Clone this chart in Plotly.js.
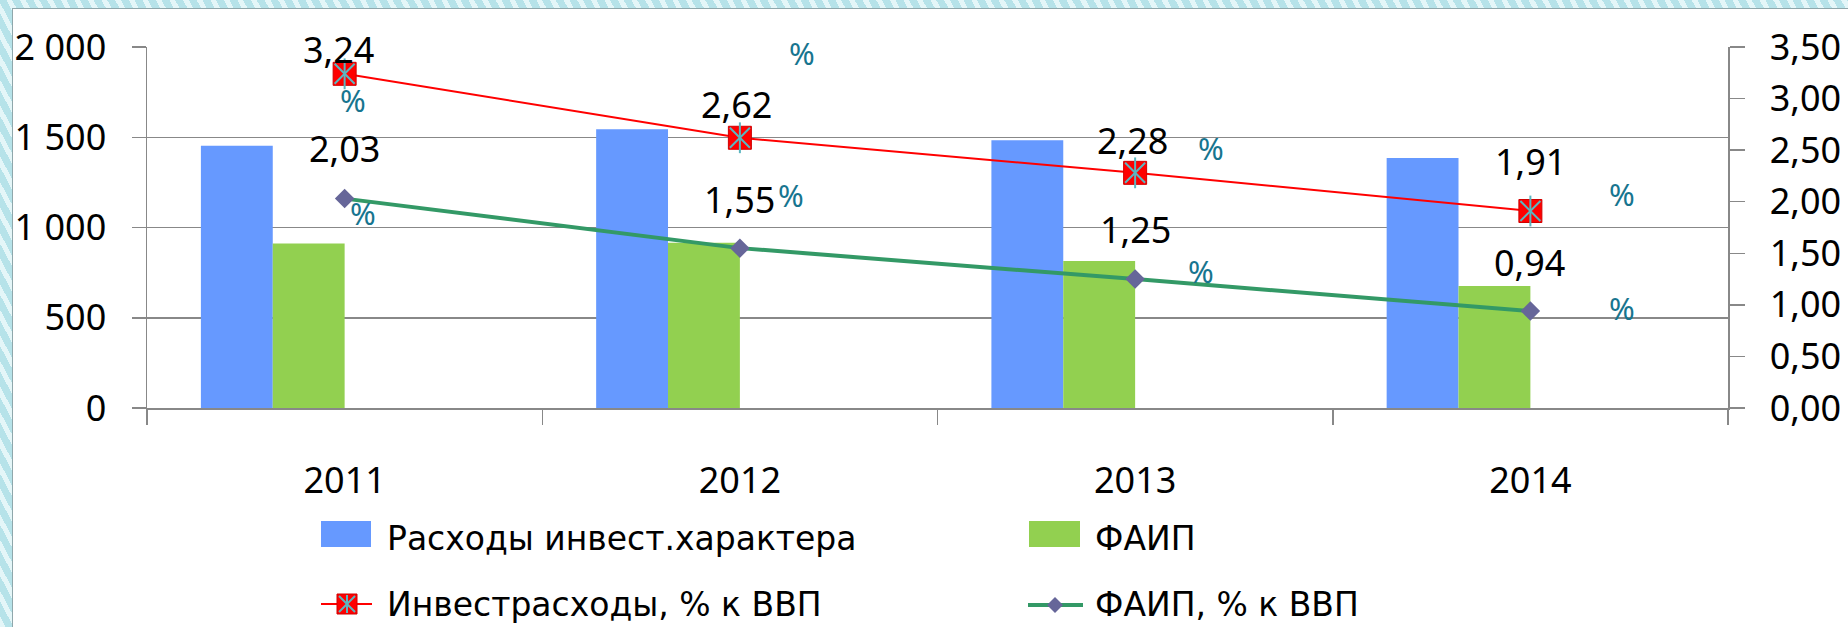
<!DOCTYPE html>
<html>
<head>
<meta charset="utf-8">
<script src="https://cdn.plot.ly/plotly-3.0.1.min.js"></script>
<style>
html,body{margin:0;padding:0;width:1848px;height:627px;overflow:hidden;}
body{background-color:#cdeef3;
 background-image:repeating-linear-gradient(62deg, rgba(255,255,255,0.45) 0px, rgba(255,255,255,0.45) 5px, rgba(140,205,215,0.35) 5px, rgba(140,205,215,0.35) 12px);}
#frame{position:absolute;left:12px;top:8px;width:1836px;height:619px;background:#ffffff;border-left:1px solid #8fa7ab;border-top:1px solid #8fa7ab;}
#chart{width:1835px;height:618px;}
</style>
</head>
<body>
<div id="frame"><div id="chart"></div></div>
<script>
// ---- data ----
const years = ['2011', '2012', '2013', '2014'];
const investSpending = [1453, 1544, 1483, 1385];   // Расходы инвест.характера
const faipSpending = [912, 916, 814, 676];         // ФАИП
const investPctGdp = [3.24, 2.62, 2.28, 1.91];     // Инвестрасходы, % к ВВП
const faipPctGdp = [2.03, 1.55, 1.25, 0.94];       // ФАИП, % к ВВП
const leftTicks = [0, 500, 1000, 1500, 2000];
const rightTicks = [0, 0.5, 1, 1.5, 2, 2.5, 3, 3.5];
const seriesNames = ['Расходы инвест.характера', 'ФАИП', 'Инвестрасходы, % к ВВП', 'ФАИП, % к ВВП'];

// ---- styles / layout helpers ----
const C = {blue:'#6699ff', green:'#92d050', red:'#ff0000', teal:'#5bb6c0', lineGreen:'#339966', diamond:'#666699', grid:'#888888', pct:'#17758f'};
const numFont = {family:'Noto Sans, Liberation Sans, sans-serif', size:36, color:'#000'};
const pctFont = {family:'Noto Sans, Liberation Sans, sans-serif', size:31, color:C.pct};
const legFont = {family:'DejaVu Sans, Verdana, sans-serif', size:33, color:'#000'};

// Excel-like group: 4 bar slots per category, gap width 150%
const slot = 1 / 5.5;

// plot area in page px (for paper-referenced legend)
const PL = 147, PR = 1728, PT = 47, PB = 408;
const px = v => (v - PL) / (PR - PL);
const py = v => (PB - v) / (PB - PT);

const traces = [
  {type:'bar', name:seriesNames[0], x:years, y:investSpending, width:slot, offset:-2*slot,
   marker:{color:C.blue}, yaxis:'y', hoverinfo:'x+y'},
  {type:'bar', name:seriesNames[1], x:years, y:faipSpending, width:slot, offset:-slot,
   marker:{color:C.green}, yaxis:'y', hoverinfo:'x+y'},
  {type:'scatter', mode:'lines+markers', name:seriesNames[2], x:years, y:investPctGdp, yaxis:'y2',
   line:{color:C.red, width:2}, marker:{symbol:'square', size:23, color:C.red, line:{color:'#d00000', width:1}}},
  {type:'scatter', mode:'markers', showlegend:false, hoverinfo:'skip', x:years, y:investPctGdp, yaxis:'y2',
   marker:{symbol:'x-thin-open', size:20, color:C.teal, line:{color:C.teal, width:2}}},
  {type:'scatter', mode:'markers', showlegend:false, hoverinfo:'skip', x:years, y:investPctGdp, yaxis:'y2',
   marker:{symbol:'line-ns-open', size:22, color:C.teal, line:{color:C.teal, width:2}}},
  {type:'scatter', mode:'lines+markers', name:seriesNames[3], x:years, y:faipPctGdp, yaxis:'y2',
   line:{color:C.lineGreen, width:4}, marker:{symbol:'diamond', size:15, color:C.diamond}}
];

const fmt = v => v.toFixed(2).replace('.', ',');
// label placement offsets (px) relative to each point: [dx, dy up]
const redValOff = [[-6,24],[-3,33],[-3,32],[0,50]];
const grnValOff = [[0,50],[0,49],[0,50],[-1,49]];
const redPctOff = [[8,-26],[62,85],[76,25],[92,17]];
const grnPctOff = [[18,-14],[51,53],[66,8],[92,3]];

const annotations = [];
years.forEach((yr, i) => {
  // category axis: annotation x given as the category's serial index
  annotations.push({x:i, y:investPctGdp[i], xref:'x', yref:'y2', text:fmt(investPctGdp[i]), showarrow:false,
    xshift:redValOff[i][0], yshift:redValOff[i][1], font:numFont, xanchor:'center', yanchor:'middle'});
  annotations.push({x:i, y:faipPctGdp[i], xref:'x', yref:'y2', text:fmt(faipPctGdp[i]), showarrow:false,
    xshift:grnValOff[i][0], yshift:grnValOff[i][1], font:numFont, xanchor:'center', yanchor:'middle'});
  annotations.push({x:i, y:investPctGdp[i], xref:'x', yref:'y2', text:'%', showarrow:false,
    xshift:redPctOff[i][0], yshift:redPctOff[i][1], font:pctFont, xanchor:'center', yanchor:'middle'});
  annotations.push({x:i, y:faipPctGdp[i], xref:'x', yref:'y2', text:'%', showarrow:false,
    xshift:grnPctOff[i][0], yshift:grnPctOff[i][1], font:pctFont, xanchor:'center', yanchor:'middle'});
});

// ---- hand-drawn legend (Excel-style icons) ----
const legendRows = [
  {name:seriesNames[0], x:385, y:538},
  {name:seriesNames[1], x:1093, y:538},
  {name:seriesNames[2], x:385, y:604},
  {name:seriesNames[3], x:1093, y:604}
];
legendRows.forEach(r => annotations.push({xref:'paper', yref:'paper', x:px(r.x), y:py(r.y), text:r.name,
  showarrow:false, xanchor:'left', yanchor:'middle', font:legFont}));

const P = (x0,y0,x1,y1) => ({x0:px(x0), x1:px(x1), y0:py(y0), y1:py(y1), xref:'paper', yref:'paper'});
const shapes = [
  Object.assign({type:'rect', fillcolor:C.blue, line:{width:0}}, P(321,521,371,547)),
  Object.assign({type:'rect', fillcolor:C.green, line:{width:0}}, P(1029,521,1080,547)),
  Object.assign({type:'line', line:{color:C.red, width:2}}, P(321,604,372,604)),
  Object.assign({type:'rect', fillcolor:C.red, line:{color:'#d00000', width:1}}, P(337,594,357,614)),
  Object.assign({type:'line', line:{color:C.teal, width:2}}, P(339,596,355,612)),
  Object.assign({type:'line', line:{color:C.teal, width:2}}, P(339,612,355,596)),
  Object.assign({type:'line', line:{color:C.teal, width:2}}, P(347,595,347,613)),
  Object.assign({type:'line', line:{color:C.lineGreen, width:4}}, P(1028,605,1083,605)),
  {type:'path', xref:'paper', yref:'paper', fillcolor:C.diamond, line:{width:0},
   path:`M ${px(1047)} ${py(605)} L ${px(1055)} ${py(597)} L ${px(1063)} ${py(605)} L ${px(1055)} ${py(613)} Z`}
];

const layout = {
  width:1835, height:618,
  margin:{l:134, r:120, t:38, b:219},
  paper_bgcolor:'#ffffff', plot_bgcolor:'#ffffff',
  separators:', ',
  showlegend:false,
  barmode:'overlay',
  font:{family:'Noto Sans, sans-serif', color:'#000'},
  xaxis:{type:'category', categoryorder:'array', categoryarray:years, range:[-0.5, 3.5],
    showline:true, linecolor:C.grid, linewidth:1.5, ticks:'outside', tickson:'boundaries', ticklen:15,
    tickcolor:C.grid, tickwidth:1.5, showgrid:false, zeroline:false, tickfont:numFont, ticklabelstandoff:40},
  yaxis:{range:[0, 2000], tickvals:leftTicks, separatethousands:true, tickformat:',d',
    showline:true, linecolor:C.grid, linewidth:1.5, ticks:'outside', ticklen:14, tickcolor:C.grid, tickwidth:1.5,
    showgrid:true, gridcolor:C.grid, gridwidth:1.5, zeroline:false, tickfont:numFont, ticklabelstandoff:18},
  yaxis2:{range:[0, 3.5], tickvals:rightTicks, tickformat:'.2f', overlaying:'y', side:'right',
    showline:true, linecolor:C.grid, linewidth:1.5, ticks:'outside', ticklen:15, tickcolor:C.grid, tickwidth:1.5,
    showgrid:false, zeroline:false, tickfont:numFont, ticklabelstandoff:18},
  annotations:annotations,
  shapes:shapes
};

Plotly.newPlot('chart', traces, layout, {displayModeBar:false, staticPlot:true});
</script>
</body>
</html>
